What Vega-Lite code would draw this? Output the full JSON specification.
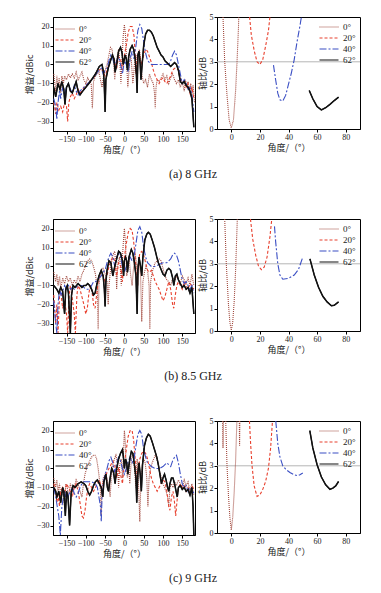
{
"$schema": "https://vega.github.io/schema/vega-lite/v6.json",
"padding": {"left": 24, "top": 12, "right": 4, "bottom": 4},
"background": "white",
"config": {
 "view": {"stroke": "#000", "strokeWidth": 1},
 "axis": {"labelFont": "Liberation Serif", "labelFontSize": 8, "labelColor": "#222", "labelOverlap": false, "labelSeparation": 0, "titleFont": "Noto Sans CJK SC", "titleFontSize": 9, "titleFontWeight": "normal", "titleColor": "#222", "tickSize": 3, "labelPadding": 1, "titlePadding": 2, "grid": false, "domainColor": "#000", "tickColor": "#000"},
 "legend": {"symbolType": "M-1.9,0H1.9", "symbolSize": 100, "symbolStrokeWidth": 1.2, "labelOffset": 8, "labelFont": "Liberation Serif", "labelFontSize": 9, "labelColor": "#222", "rowPadding": 0, "padding": 0, "title": null},
 "title": {"font": "Liberation Serif", "fontSize": 12, "fontWeight": "normal", "color": "#222"}
},
"datasets": {
 "ref": [{"y": 3}],
 "r": [
  {"f":"a","s":"0°","x":-5.8,"y":5},{"f":"a","s":"0°","x":-4.6,"y":3},{"f":"a","s":"0°","x":-3,"y":1.5},{"f":"a","s":"0°","x":-1.5,"y":0.4},{"f":"a","s":"0°","x":0,"y":0.05},{"f":"a","s":"0°","x":1.5,"y":0.4},{"f":"a","s":"0°","x":3,"y":1.7},{"f":"a","s":"0°","x":4,"y":3},{"f":"a","s":"0°","x":5,"y":4.5},{"f":"a","s":"0°","x":5.2,"y":5},
  {"f":"a","s":"20°","x":12.8,"y":5},{"f":"a","s":"20°","x":14,"y":4.2},{"f":"a","s":"20°","x":16,"y":3.5},{"f":"a","s":"20°","x":18,"y":3.0},{"f":"a","s":"20°","x":20,"y":2.88},{"f":"a","s":"20°","x":22,"y":3.1},{"f":"a","s":"20°","x":24,"y":3.7},{"f":"a","s":"20°","x":26,"y":4.4},{"f":"a","s":"20°","x":27,"y":5},
  {"f":"a","s":"40°","x":29.5,"y":2.85},{"f":"a","s":"40°","x":31,"y":2.2},{"f":"a","s":"40°","x":32.5,"y":1.6},{"f":"a","s":"40°","x":34,"y":1.3},{"f":"a","s":"40°","x":36,"y":1.25},{"f":"a","s":"40°","x":38,"y":1.5},{"f":"a","s":"40°","x":40,"y":2.0},{"f":"a","s":"40°","x":42,"y":2.5},{"f":"a","s":"40°","x":44,"y":3.1},{"f":"a","s":"40°","x":46,"y":3.9},{"f":"a","s":"40°","x":48,"y":4.6},{"f":"a","s":"40°","x":49,"y":5},
  {"f":"a","s":"62°","x":54.5,"y":1.72},{"f":"a","s":"62°","x":57,"y":1.35},{"f":"a","s":"62°","x":60,"y":1.0},{"f":"a","s":"62°","x":63,"y":0.85},{"f":"a","s":"62°","x":66,"y":0.95},{"f":"a","s":"62°","x":69,"y":1.1},{"f":"a","s":"62°","x":72,"y":1.27},{"f":"a","s":"62°","x":75,"y":1.42},
  {"f":"b","s":"0°","x":-4.6,"y":5},{"f":"b","s":"0°","x":-3.5,"y":3},{"f":"b","s":"0°","x":-2,"y":1.2},{"f":"b","s":"0°","x":-1,"y":0.4},{"f":"b","s":"0°","x":0,"y":0.03},{"f":"b","s":"0°","x":1,"y":0.4},{"f":"b","s":"0°","x":2,"y":1.3},{"f":"b","s":"0°","x":3,"y":2.7},{"f":"b","s":"0°","x":4.2,"y":5},
  {"f":"b","s":"20°","x":13.4,"y":5},{"f":"b","s":"20°","x":15,"y":4.1},{"f":"b","s":"20°","x":17,"y":3.4},{"f":"b","s":"20°","x":19,"y":2.9},{"f":"b","s":"20°","x":21,"y":2.74},{"f":"b","s":"20°","x":23,"y":2.85},{"f":"b","s":"20°","x":25,"y":3.3},{"f":"b","s":"20°","x":27,"y":4.2},{"f":"b","s":"20°","x":28.3,"y":5},
  {"f":"b","s":"40°","x":30.2,"y":4.67},{"f":"b","s":"40°","x":31,"y":4.0},{"f":"b","s":"40°","x":32.5,"y":3.0},{"f":"b","s":"40°","x":34,"y":2.5},{"f":"b","s":"40°","x":36,"y":2.31},{"f":"b","s":"40°","x":40,"y":2.35},{"f":"b","s":"40°","x":44,"y":2.5},{"f":"b","s":"40°","x":47,"y":2.75},{"f":"b","s":"40°","x":50,"y":3.3},
  {"f":"b","s":"62°","x":55,"y":3.22},{"f":"b","s":"62°","x":58,"y":2.5},{"f":"b","s":"62°","x":61,"y":1.95},{"f":"b","s":"62°","x":64,"y":1.55},{"f":"b","s":"62°","x":67,"y":1.3},{"f":"b","s":"62°","x":70,"y":1.13},{"f":"b","s":"62°","x":72,"y":1.15},{"f":"b","s":"62°","x":75,"y":1.3},
  {"f":"c","s":"0°","x":-3.9,"y":5},{"f":"c","s":"0°","x":-3,"y":3},{"f":"c","s":"0°","x":-2,"y":1.7},{"f":"c","s":"0°","x":-1,"y":0.7},{"f":"c","s":"0°","x":0,"y":0.13},{"f":"c","s":"0°","x":1,"y":0.7},{"f":"c","s":"0°","x":2,"y":1.8},{"f":"c","s":"0°","x":3,"y":3.2},{"f":"c","s":"0°","x":3.9,"y":5},
  {"f":"c","s":"0°","k":1,"x":-6,"y":5},{"f":"c","s":"0°","k":1,"x":-5.8,"y":3.8},{"f":"c","s":"0°","k":1,"x":-5.6,"y":5},
  {"f":"c","s":"0°","k":2,"x":5.6,"y":5},{"f":"c","s":"0°","k":2,"x":5.8,"y":3.9},{"f":"c","s":"0°","k":2,"x":6.0,"y":5},
  {"f":"c","s":"20°","x":12.7,"y":5},{"f":"c","s":"20°","x":13.5,"y":4},{"f":"c","s":"20°","x":14.5,"y":3},{"f":"c","s":"20°","x":16,"y":2.1},{"f":"c","s":"20°","x":18,"y":1.63},{"f":"c","s":"20°","x":20,"y":1.7},{"f":"c","s":"20°","x":22,"y":1.95},{"f":"c","s":"20°","x":24,"y":2.3},{"f":"c","s":"20°","x":26,"y":2.9},{"f":"c","s":"20°","x":27.5,"y":3.8},{"f":"c","s":"20°","x":28.8,"y":5},
  {"f":"c","s":"40°","x":31.1,"y":5},{"f":"c","s":"40°","x":32.5,"y":4.0},{"f":"c","s":"40°","x":34,"y":3.4},{"f":"c","s":"40°","x":36,"y":3.0},{"f":"c","s":"40°","x":38,"y":2.85},{"f":"c","s":"40°","x":41,"y":2.7},{"f":"c","s":"40°","x":44,"y":2.6},{"f":"c","s":"40°","x":46,"y":2.56},{"f":"c","s":"40°","x":48,"y":2.6},{"f":"c","s":"40°","x":50,"y":2.68},
  {"f":"c","s":"62°","x":54.9,"y":4.57},{"f":"c","s":"62°","x":57,"y":3.8},{"f":"c","s":"62°","x":60,"y":3.05},{"f":"c","s":"62°","x":63,"y":2.5},{"f":"c","s":"62°","x":66,"y":2.15},{"f":"c","s":"62°","x":69,"y":1.95},{"f":"c","s":"62°","x":71,"y":2.0},{"f":"c","s":"62°","x":73,"y":2.1},{"f":"c","s":"62°","x":75,"y":2.3}
 ],
 "g": [
  {"f":"a","s":"0°","x":-183,"y":-5},{"f":"a","s":"0°","x":-178,"y":-14},{"f":"a","s":"0°","x":-175,"y":-6},{"f":"a","s":"0°","x":-172,"y":-12},{"f":"a","s":"0°","x":-169,"y":-7},{"f":"a","s":"0°","x":-165,"y":-15},{"f":"a","s":"0°","x":-162,"y":-6},{"f":"a","s":"0°","x":-158,"y":-10},{"f":"a","s":"0°","x":-155,"y":-6},{"f":"a","s":"0°","x":-150,"y":-8},{"f":"a","s":"0°","x":-145,"y":-5},{"f":"a","s":"0°","x":-140,"y":-7},{"f":"a","s":"0°","x":-135,"y":-5},{"f":"a","s":"0°","x":-130,"y":-7},{"f":"a","s":"0°","x":-125,"y":-4},{"f":"a","s":"0°","x":-120,"y":-8},{"f":"a","s":"0°","x":-115,"y":-6},{"f":"a","s":"0°","x":-110,"y":-4},{"f":"a","s":"0°","x":-105,"y":-8},{"f":"a","s":"0°","x":-100,"y":-10},{"f":"a","s":"0°","x":-95,"y":-7},{"f":"a","s":"0°","x":-90,"y":-9},{"f":"a","s":"0°","x":-86,"y":-10},{"f":"a","s":"0°","x":-83,"y":-23},{"f":"a","s":"0°","x":-80,"y":-9},{"f":"a","s":"0°","x":-75,"y":-6},{"f":"a","s":"0°","x":-70,"y":-5},{"f":"a","s":"0°","x":-66,"y":-4},{"f":"a","s":"0°","x":-62,"y":-8},{"f":"a","s":"0°","x":-58,"y":-12},{"f":"a","s":"0°","x":-54,"y":-6},{"f":"a","s":"0°","x":-50,"y":-3},{"f":"a","s":"0°","x":-45,"y":0},{"f":"a","s":"0°","x":-40,"y":5},{"f":"a","s":"0°","x":-36,"y":9},{"f":"a","s":"0°","x":-32,"y":8},{"f":"a","s":"0°","x":-28,"y":2},{"f":"a","s":"0°","x":-25,"y":-8},{"f":"a","s":"0°","x":-22,"y":0},{"f":"a","s":"0°","x":-18,"y":5},{"f":"a","s":"0°","x":-15,"y":8},{"f":"a","s":"0°","x":-12,"y":2},{"f":"a","s":"0°","x":-9,"y":-10},{"f":"a","s":"0°","x":-6,"y":3},{"f":"a","s":"0°","x":-3,"y":15},{"f":"a","s":"0°","x":0,"y":21},{"f":"a","s":"0°","x":3,"y":15},{"f":"a","s":"0°","x":6,"y":0},{"f":"a","s":"0°","x":9,"y":-12},{"f":"a","s":"0°","x":12,"y":-3},{"f":"a","s":"0°","x":15,"y":5},{"f":"a","s":"0°","x":18,"y":2},{"f":"a","s":"0°","x":22,"y":-10},{"f":"a","s":"0°","x":26,"y":0},{"f":"a","s":"0°","x":30,"y":5},{"f":"a","s":"0°","x":33,"y":-8},{"f":"a","s":"0°","x":36,"y":5},{"f":"a","s":"0°","x":39,"y":8},{"f":"a","s":"0°","x":42,"y":3},{"f":"a","s":"0°","x":45,"y":-5},{"f":"a","s":"0°","x":50,"y":-10},{"f":"a","s":"0°","x":55,"y":-8},{"f":"a","s":"0°","x":60,"y":-12},{"f":"a","s":"0°","x":65,"y":-5},{"f":"a","s":"0°","x":70,"y":-8},{"f":"a","s":"0°","x":75,"y":-10},{"f":"a","s":"0°","x":78,"y":-15},{"f":"a","s":"0°","x":80,"y":-23},{"f":"a","s":"0°","x":82,"y":-12},{"f":"a","s":"0°","x":85,"y":-8},{"f":"a","s":"0°","x":90,"y":-9},{"f":"a","s":"0°","x":95,"y":-7},{"f":"a","s":"0°","x":100,"y":-5},{"f":"a","s":"0°","x":105,"y":-8},{"f":"a","s":"0°","x":110,"y":-6},{"f":"a","s":"0°","x":115,"y":-10},{"f":"a","s":"0°","x":120,"y":-7},{"f":"a","s":"0°","x":125,"y":-5},{"f":"a","s":"0°","x":130,"y":-8},{"f":"a","s":"0°","x":135,"y":-10},{"f":"a","s":"0°","x":140,"y":-8},{"f":"a","s":"0°","x":145,"y":-12},{"f":"a","s":"0°","x":150,"y":-9},{"f":"a","s":"0°","x":155,"y":-14},{"f":"a","s":"0°","x":158,"y":-8},{"f":"a","s":"0°","x":162,"y":-12},{"f":"a","s":"0°","x":165,"y":-9},{"f":"a","s":"0°","x":168,"y":-14},{"f":"a","s":"0°","x":172,"y":-10},{"f":"a","s":"0°","x":175,"y":-16},{"f":"a","s":"0°","x":178,"y":-11},{"f":"a","s":"0°","x":182,"y":-20},
  {"f":"a","s":"20°","x":-183,"y":-20},{"f":"a","s":"20°","x":-178,"y":-26},{"f":"a","s":"20°","x":-175,"y":-20},{"f":"a","s":"20°","x":-170,"y":-24},{"f":"a","s":"20°","x":-165,"y":-22},{"f":"a","s":"20°","x":-160,"y":-25},{"f":"a","s":"20°","x":-155,"y":-20},{"f":"a","s":"20°","x":-150,"y":-22},{"f":"a","s":"20°","x":-147,"y":-30},{"f":"a","s":"20°","x":-144,"y":-20},{"f":"a","s":"20°","x":-140,"y":-17},{"f":"a","s":"20°","x":-135,"y":-15},{"f":"a","s":"20°","x":-130,"y":-18},{"f":"a","s":"20°","x":-125,"y":-16},{"f":"a","s":"20°","x":-120,"y":-13},{"f":"a","s":"20°","x":-115,"y":-15},{"f":"a","s":"20°","x":-110,"y":-14},{"f":"a","s":"20°","x":-105,"y":-12},{"f":"a","s":"20°","x":-100,"y":-11},{"f":"a","s":"20°","x":-95,"y":-10},{"f":"a","s":"20°","x":-90,"y":-9},{"f":"a","s":"20°","x":-85,"y":-8},{"f":"a","s":"20°","x":-80,"y":-7},{"f":"a","s":"20°","x":-75,"y":-5},{"f":"a","s":"20°","x":-70,"y":-3},{"f":"a","s":"20°","x":-65,"y":-3},{"f":"a","s":"20°","x":-60,"y":-2},{"f":"a","s":"20°","x":-55,"y":-4},{"f":"a","s":"20°","x":-50,"y":-6},{"f":"a","s":"20°","x":-45,"y":-3},{"f":"a","s":"20°","x":-40,"y":0},{"f":"a","s":"20°","x":-35,"y":3},{"f":"a","s":"20°","x":-30,"y":4},{"f":"a","s":"20°","x":-25,"y":2},{"f":"a","s":"20°","x":-20,"y":-2},{"f":"a","s":"20°","x":-15,"y":4},{"f":"a","s":"20°","x":-10,"y":3},{"f":"a","s":"20°","x":-5,"y":-3},{"f":"a","s":"20°","x":0,"y":5},{"f":"a","s":"20°","x":5,"y":10},{"f":"a","s":"20°","x":10,"y":17},{"f":"a","s":"20°","x":15,"y":20},{"f":"a","s":"20°","x":20,"y":20},{"f":"a","s":"20°","x":25,"y":15},{"f":"a","s":"20°","x":28,"y":5},{"f":"a","s":"20°","x":30,"y":-5},{"f":"a","s":"20°","x":33,"y":3},{"f":"a","s":"20°","x":36,"y":6},{"f":"a","s":"20°","x":40,"y":4},{"f":"a","s":"20°","x":45,"y":0},{"f":"a","s":"20°","x":50,"y":5},{"f":"a","s":"20°","x":55,"y":8},{"f":"a","s":"20°","x":60,"y":7},{"f":"a","s":"20°","x":65,"y":4},{"f":"a","s":"20°","x":70,"y":1},{"f":"a","s":"20°","x":75,"y":-3},{"f":"a","s":"20°","x":80,"y":-6},{"f":"a","s":"20°","x":85,"y":-8},{"f":"a","s":"20°","x":90,"y":-10},{"f":"a","s":"20°","x":95,"y":-8},{"f":"a","s":"20°","x":100,"y":-7},{"f":"a","s":"20°","x":105,"y":-9},{"f":"a","s":"20°","x":110,"y":-10},{"f":"a","s":"20°","x":115,"y":-8},{"f":"a","s":"20°","x":120,"y":-6},{"f":"a","s":"20°","x":125,"y":-3},{"f":"a","s":"20°","x":130,"y":-2},{"f":"a","s":"20°","x":135,"y":-2},{"f":"a","s":"20°","x":140,"y":-3},{"f":"a","s":"20°","x":145,"y":-7},{"f":"a","s":"20°","x":150,"y":-10},{"f":"a","s":"20°","x":155,"y":-8},{"f":"a","s":"20°","x":160,"y":-12},{"f":"a","s":"20°","x":165,"y":-10},{"f":"a","s":"20°","x":170,"y":-15},{"f":"a","s":"20°","x":175,"y":-12},{"f":"a","s":"20°","x":180,"y":-18},
  {"f":"a","s":"40°","x":-183,"y":-18},{"f":"a","s":"40°","x":-178,"y":-22},{"f":"a","s":"40°","x":-175,"y":-29},{"f":"a","s":"40°","x":-172,"y":-20},{"f":"a","s":"40°","x":-168,"y":-14},{"f":"a","s":"40°","x":-165,"y":-18},{"f":"a","s":"40°","x":-160,"y":-12},{"f":"a","s":"40°","x":-155,"y":-16},{"f":"a","s":"40°","x":-150,"y":-12},{"f":"a","s":"40°","x":-145,"y":-10},{"f":"a","s":"40°","x":-140,"y":-13},{"f":"a","s":"40°","x":-135,"y":-15},{"f":"a","s":"40°","x":-130,"y":-11},{"f":"a","s":"40°","x":-125,"y":-14},{"f":"a","s":"40°","x":-120,"y":-16},{"f":"a","s":"40°","x":-115,"y":-14},{"f":"a","s":"40°","x":-110,"y":-13},{"f":"a","s":"40°","x":-100,"y":-11},{"f":"a","s":"40°","x":-90,"y":-9},{"f":"a","s":"40°","x":-80,"y":-7},{"f":"a","s":"40°","x":-70,"y":-4},{"f":"a","s":"40°","x":-60,"y":-2},{"f":"a","s":"40°","x":-55,"y":-5},{"f":"a","s":"40°","x":-50,"y":-3},{"f":"a","s":"40°","x":-45,"y":-2},{"f":"a","s":"40°","x":-40,"y":2},{"f":"a","s":"40°","x":-35,"y":5},{"f":"a","s":"40°","x":-30,"y":3},{"f":"a","s":"40°","x":-25,"y":-1},{"f":"a","s":"40°","x":-20,"y":2},{"f":"a","s":"40°","x":-15,"y":4},{"f":"a","s":"40°","x":-10,"y":0},{"f":"a","s":"40°","x":-5,"y":-5},{"f":"a","s":"40°","x":0,"y":2},{"f":"a","s":"40°","x":5,"y":0},{"f":"a","s":"40°","x":10,"y":-4},{"f":"a","s":"40°","x":15,"y":3},{"f":"a","s":"40°","x":20,"y":7},{"f":"a","s":"40°","x":25,"y":3},{"f":"a","s":"40°","x":30,"y":10},{"f":"a","s":"40°","x":35,"y":18},{"f":"a","s":"40°","x":40,"y":21},{"f":"a","s":"40°","x":45,"y":19},{"f":"a","s":"40°","x":50,"y":12},{"f":"a","s":"40°","x":55,"y":6},{"f":"a","s":"40°","x":60,"y":2},{"f":"a","s":"40°","x":65,"y":1},{"f":"a","s":"40°","x":70,"y":0},{"f":"a","s":"40°","x":80,"y":0},{"f":"a","s":"40°","x":90,"y":0},{"f":"a","s":"40°","x":100,"y":0},{"f":"a","s":"40°","x":110,"y":0},{"f":"a","s":"40°","x":115,"y":0},{"f":"a","s":"40°","x":120,"y":2},{"f":"a","s":"40°","x":125,"y":5},{"f":"a","s":"40°","x":130,"y":7},{"f":"a","s":"40°","x":135,"y":5},{"f":"a","s":"40°","x":140,"y":0},{"f":"a","s":"40°","x":145,"y":-5},{"f":"a","s":"40°","x":150,"y":-10},{"f":"a","s":"40°","x":155,"y":-8},{"f":"a","s":"40°","x":160,"y":-10},{"f":"a","s":"40°","x":165,"y":-13},{"f":"a","s":"40°","x":170,"y":-12},{"f":"a","s":"40°","x":175,"y":-16},{"f":"a","s":"40°","x":180,"y":-25},
  {"f":"a","s":"62°","x":-183,"y":-12},{"f":"a","s":"62°","x":-178,"y":-17},{"f":"a","s":"62°","x":-172,"y":-10},{"f":"a","s":"62°","x":-167,"y":-13},{"f":"a","s":"62°","x":-162,"y":-9},{"f":"a","s":"62°","x":-157,"y":-13},{"f":"a","s":"62°","x":-154,"y":-21},{"f":"a","s":"62°","x":-150,"y":-12},{"f":"a","s":"62°","x":-145,"y":-10},{"f":"a","s":"62°","x":-140,"y":-14},{"f":"a","s":"62°","x":-135,"y":-15},{"f":"a","s":"62°","x":-130,"y":-12},{"f":"a","s":"62°","x":-125,"y":-9},{"f":"a","s":"62°","x":-120,"y":-14},{"f":"a","s":"62°","x":-115,"y":-16},{"f":"a","s":"62°","x":-108,"y":-14},{"f":"a","s":"62°","x":-100,"y":-12},{"f":"a","s":"62°","x":-92,"y":-10},{"f":"a","s":"62°","x":-85,"y":-8},{"f":"a","s":"62°","x":-75,"y":-5},{"f":"a","s":"62°","x":-65,"y":-1},{"f":"a","s":"62°","x":-58,"y":0},{"f":"a","s":"62°","x":-54,"y":-4},{"f":"a","s":"62°","x":-52,"y":-12},{"f":"a","s":"62°","x":-50,"y":-25},{"f":"a","s":"62°","x":-48,"y":-8},{"f":"a","s":"62°","x":-42,"y":-2},{"f":"a","s":"62°","x":-36,"y":2},{"f":"a","s":"62°","x":-31,"y":5},{"f":"a","s":"62°","x":-27,"y":3},{"f":"a","s":"62°","x":-24,"y":-4},{"f":"a","s":"62°","x":-20,"y":0},{"f":"a","s":"62°","x":-15,"y":7},{"f":"a","s":"62°","x":-10,"y":9},{"f":"a","s":"62°","x":-6,"y":6},{"f":"a","s":"62°","x":-3,"y":0},{"f":"a","s":"62°","x":0,"y":3},{"f":"a","s":"62°","x":2,"y":5},{"f":"a","s":"62°","x":5,"y":3},{"f":"a","s":"62°","x":8,"y":-3},{"f":"a","s":"62°","x":11,"y":4},{"f":"a","s":"62°","x":15,"y":8},{"f":"a","s":"62°","x":20,"y":10},{"f":"a","s":"62°","x":24,"y":8},{"f":"a","s":"62°","x":28,"y":3},{"f":"a","s":"62°","x":31,"y":-5},{"f":"a","s":"62°","x":33,"y":-15},{"f":"a","s":"62°","x":35,"y":5},{"f":"a","s":"62°","x":38,"y":7},{"f":"a","s":"62°","x":41,"y":0},{"f":"a","s":"62°","x":43,"y":-8},{"f":"a","s":"62°","x":46,"y":0},{"f":"a","s":"62°","x":50,"y":10},{"f":"a","s":"62°","x":55,"y":16},{"f":"a","s":"62°","x":60,"y":18},{"f":"a","s":"62°","x":65,"y":18},{"f":"a","s":"62°","x":70,"y":17},{"f":"a","s":"62°","x":75,"y":15},{"f":"a","s":"62°","x":80,"y":12},{"f":"a","s":"62°","x":85,"y":9},{"f":"a","s":"62°","x":90,"y":7},{"f":"a","s":"62°","x":95,"y":5},{"f":"a","s":"62°","x":100,"y":4},{"f":"a","s":"62°","x":105,"y":2},{"f":"a","s":"62°","x":110,"y":1},{"f":"a","s":"62°","x":115,"y":0},{"f":"a","s":"62°","x":120,"y":-1},{"f":"a","s":"62°","x":125,"y":0},{"f":"a","s":"62°","x":130,"y":1},{"f":"a","s":"62°","x":135,"y":0},{"f":"a","s":"62°","x":140,"y":-3},{"f":"a","s":"62°","x":145,"y":-9},{"f":"a","s":"62°","x":150,"y":-10},{"f":"a","s":"62°","x":155,"y":-9},{"f":"a","s":"62°","x":160,"y":-11},{"f":"a","s":"62°","x":165,"y":-12},{"f":"a","s":"62°","x":170,"y":-14},{"f":"a","s":"62°","x":175,"y":-18},{"f":"a","s":"62°","x":180,"y":-33},
  {"f":"b","s":"0°","x":-183,"y":-3},{"f":"b","s":"0°","x":-178,"y":-8},{"f":"b","s":"0°","x":-175,"y":-4},{"f":"b","s":"0°","x":-172,"y":-10},{"f":"b","s":"0°","x":-168,"y":-5},{"f":"b","s":"0°","x":-165,"y":-12},{"f":"b","s":"0°","x":-160,"y":-6},{"f":"b","s":"0°","x":-155,"y":-9},{"f":"b","s":"0°","x":-150,"y":-5},{"f":"b","s":"0°","x":-145,"y":-8},{"f":"b","s":"0°","x":-140,"y":-6},{"f":"b","s":"0°","x":-135,"y":-10},{"f":"b","s":"0°","x":-130,"y":-7},{"f":"b","s":"0°","x":-125,"y":-9},{"f":"b","s":"0°","x":-120,"y":-5},{"f":"b","s":"0°","x":-115,"y":-8},{"f":"b","s":"0°","x":-110,"y":-4},{"f":"b","s":"0°","x":-105,"y":-2},{"f":"b","s":"0°","x":-100,"y":1},{"f":"b","s":"0°","x":-95,"y":3},{"f":"b","s":"0°","x":-90,"y":4},{"f":"b","s":"0°","x":-85,"y":3},{"f":"b","s":"0°","x":-80,"y":0},{"f":"b","s":"0°","x":-75,"y":-4},{"f":"b","s":"0°","x":-70,"y":-12},{"f":"b","s":"0°","x":-68,"y":-33},{"f":"b","s":"0°","x":-66,"y":-10},{"f":"b","s":"0°","x":-62,"y":-4},{"f":"b","s":"0°","x":-58,"y":-1},{"f":"b","s":"0°","x":-55,"y":-1},{"f":"b","s":"0°","x":-50,"y":-4},{"f":"b","s":"0°","x":-45,"y":-8},{"f":"b","s":"0°","x":-42,"y":-20},{"f":"b","s":"0°","x":-40,"y":-10},{"f":"b","s":"0°","x":-35,"y":0},{"f":"b","s":"0°","x":-30,"y":6},{"f":"b","s":"0°","x":-25,"y":8},{"f":"b","s":"0°","x":-22,"y":0},{"f":"b","s":"0°","x":-20,"y":-12},{"f":"b","s":"0°","x":-17,"y":2},{"f":"b","s":"0°","x":-12,"y":5},{"f":"b","s":"0°","x":-8,"y":-10},{"f":"b","s":"0°","x":-5,"y":5},{"f":"b","s":"0°","x":-2,"y":15},{"f":"b","s":"0°","x":0,"y":20},{"f":"b","s":"0°","x":3,"y":12},{"f":"b","s":"0°","x":6,"y":-5},{"f":"b","s":"0°","x":8,"y":-3},{"f":"b","s":"0°","x":12,"y":5},{"f":"b","s":"0°","x":16,"y":-4},{"f":"b","s":"0°","x":20,"y":-10},{"f":"b","s":"0°","x":24,"y":0},{"f":"b","s":"0°","x":28,"y":7},{"f":"b","s":"0°","x":32,"y":0},{"f":"b","s":"0°","x":35,"y":-10},{"f":"b","s":"0°","x":38,"y":5},{"f":"b","s":"0°","x":42,"y":-5},{"f":"b","s":"0°","x":45,"y":-29},{"f":"b","s":"0°","x":48,"y":-8},{"f":"b","s":"0°","x":52,"y":-3},{"f":"b","s":"0°","x":56,"y":0},{"f":"b","s":"0°","x":60,"y":-2},{"f":"b","s":"0°","x":64,"y":-10},{"f":"b","s":"0°","x":66,"y":-33},{"f":"b","s":"0°","x":68,"y":-8},{"f":"b","s":"0°","x":72,"y":-3},{"f":"b","s":"0°","x":76,"y":0},{"f":"b","s":"0°","x":80,"y":2},{"f":"b","s":"0°","x":85,"y":3},{"f":"b","s":"0°","x":90,"y":4},{"f":"b","s":"0°","x":95,"y":3},{"f":"b","s":"0°","x":100,"y":-1},{"f":"b","s":"0°","x":105,"y":-5},{"f":"b","s":"0°","x":110,"y":-7},{"f":"b","s":"0°","x":115,"y":-8},{"f":"b","s":"0°","x":120,"y":-10},{"f":"b","s":"0°","x":125,"y":-6},{"f":"b","s":"0°","x":130,"y":-8},{"f":"b","s":"0°","x":135,"y":-5},{"f":"b","s":"0°","x":140,"y":-7},{"f":"b","s":"0°","x":145,"y":-9},{"f":"b","s":"0°","x":150,"y":-5},{"f":"b","s":"0°","x":155,"y":-7},{"f":"b","s":"0°","x":160,"y":-9},{"f":"b","s":"0°","x":165,"y":-6},{"f":"b","s":"0°","x":170,"y":-10},{"f":"b","s":"0°","x":175,"y":-4},{"f":"b","s":"0°","x":180,"y":-10},
  {"f":"b","s":"20°","x":-183,"y":-15},{"f":"b","s":"20°","x":-178,"y":-30},{"f":"b","s":"20°","x":-175,"y":-20},{"f":"b","s":"20°","x":-172,"y":-35},{"f":"b","s":"20°","x":-168,"y":-15},{"f":"b","s":"20°","x":-165,"y":-13},{"f":"b","s":"20°","x":-160,"y":-22},{"f":"b","s":"20°","x":-155,"y":-18},{"f":"b","s":"20°","x":-150,"y":-25},{"f":"b","s":"20°","x":-147,"y":-35},{"f":"b","s":"20°","x":-143,"y":-15},{"f":"b","s":"20°","x":-140,"y":-10},{"f":"b","s":"20°","x":-135,"y":-17},{"f":"b","s":"20°","x":-130,"y":-25},{"f":"b","s":"20°","x":-127,"y":-35},{"f":"b","s":"20°","x":-123,"y":-15},{"f":"b","s":"20°","x":-120,"y":-10},{"f":"b","s":"20°","x":-115,"y":-12},{"f":"b","s":"20°","x":-110,"y":-16},{"f":"b","s":"20°","x":-105,"y":-20},{"f":"b","s":"20°","x":-100,"y":-25},{"f":"b","s":"20°","x":-96,"y":-22},{"f":"b","s":"20°","x":-92,"y":-14},{"f":"b","s":"20°","x":-88,"y":-10},{"f":"b","s":"20°","x":-84,"y":-13},{"f":"b","s":"20°","x":-80,"y":-20},{"f":"b","s":"20°","x":-76,"y":-22},{"f":"b","s":"20°","x":-72,"y":-15},{"f":"b","s":"20°","x":-68,"y":-8},{"f":"b","s":"20°","x":-64,"y":-4},{"f":"b","s":"20°","x":-60,"y":-3},{"f":"b","s":"20°","x":-55,"y":-5},{"f":"b","s":"20°","x":-50,"y":-8},{"f":"b","s":"20°","x":-45,"y":-5},{"f":"b","s":"20°","x":-40,"y":0},{"f":"b","s":"20°","x":-35,"y":3},{"f":"b","s":"20°","x":-30,"y":5},{"f":"b","s":"20°","x":-25,"y":3},{"f":"b","s":"20°","x":-20,"y":-5},{"f":"b","s":"20°","x":-15,"y":2},{"f":"b","s":"20°","x":-10,"y":1},{"f":"b","s":"20°","x":-5,"y":-8},{"f":"b","s":"20°","x":0,"y":5},{"f":"b","s":"20°","x":5,"y":12},{"f":"b","s":"20°","x":10,"y":18},{"f":"b","s":"20°","x":15,"y":20},{"f":"b","s":"20°","x":20,"y":19},{"f":"b","s":"20°","x":24,"y":13},{"f":"b","s":"20°","x":28,"y":5},{"f":"b","s":"20°","x":32,"y":-8},{"f":"b","s":"20°","x":36,"y":2},{"f":"b","s":"20°","x":40,"y":7},{"f":"b","s":"20°","x":45,"y":8},{"f":"b","s":"20°","x":50,"y":6},{"f":"b","s":"20°","x":55,"y":2},{"f":"b","s":"20°","x":60,"y":-2},{"f":"b","s":"20°","x":65,"y":-3},{"f":"b","s":"20°","x":70,"y":-2},{"f":"b","s":"20°","x":75,"y":-5},{"f":"b","s":"20°","x":80,"y":-8},{"f":"b","s":"20°","x":85,"y":-10},{"f":"b","s":"20°","x":90,"y":-12},{"f":"b","s":"20°","x":95,"y":-15},{"f":"b","s":"20°","x":100,"y":-18},{"f":"b","s":"20°","x":105,"y":-16},{"f":"b","s":"20°","x":110,"y":-12},{"f":"b","s":"20°","x":115,"y":-8},{"f":"b","s":"20°","x":120,"y":-12},{"f":"b","s":"20°","x":125,"y":-20},{"f":"b","s":"20°","x":128,"y":-22},{"f":"b","s":"20°","x":132,"y":-15},{"f":"b","s":"20°","x":136,"y":-10},{"f":"b","s":"20°","x":140,"y":-8},{"f":"b","s":"20°","x":145,"y":-10},{"f":"b","s":"20°","x":150,"y":-12},{"f":"b","s":"20°","x":155,"y":-8},{"f":"b","s":"20°","x":160,"y":-10},{"f":"b","s":"20°","x":165,"y":-12},{"f":"b","s":"20°","x":170,"y":-9},{"f":"b","s":"20°","x":175,"y":-10},{"f":"b","s":"20°","x":180,"y":-12},
  {"f":"b","s":"40°","x":-183,"y":-18},{"f":"b","s":"40°","x":-178,"y":-30},{"f":"b","s":"40°","x":-175,"y":-35},{"f":"b","s":"40°","x":-172,"y":-20},{"f":"b","s":"40°","x":-168,"y":-12},{"f":"b","s":"40°","x":-164,"y":-15},{"f":"b","s":"40°","x":-160,"y":-13},{"f":"b","s":"40°","x":-155,"y":-10},{"f":"b","s":"40°","x":-150,"y":-12},{"f":"b","s":"40°","x":-145,"y":-10},{"f":"b","s":"40°","x":-140,"y":-12},{"f":"b","s":"40°","x":-135,"y":-11},{"f":"b","s":"40°","x":-130,"y":-12},{"f":"b","s":"40°","x":-125,"y":-11},{"f":"b","s":"40°","x":-120,"y":-10},{"f":"b","s":"40°","x":-110,"y":-10},{"f":"b","s":"40°","x":-100,"y":-12},{"f":"b","s":"40°","x":-90,"y":-12},{"f":"b","s":"40°","x":-85,"y":-10},{"f":"b","s":"40°","x":-80,"y":-8},{"f":"b","s":"40°","x":-75,"y":-8},{"f":"b","s":"40°","x":-70,"y":-7},{"f":"b","s":"40°","x":-65,"y":-6},{"f":"b","s":"40°","x":-60,"y":-5},{"f":"b","s":"40°","x":-55,"y":-3},{"f":"b","s":"40°","x":-50,"y":-2},{"f":"b","s":"40°","x":-45,"y":2},{"f":"b","s":"40°","x":-40,"y":5},{"f":"b","s":"40°","x":-35,"y":7},{"f":"b","s":"40°","x":-30,"y":5},{"f":"b","s":"40°","x":-25,"y":0},{"f":"b","s":"40°","x":-20,"y":5},{"f":"b","s":"40°","x":-15,"y":7},{"f":"b","s":"40°","x":-10,"y":5},{"f":"b","s":"40°","x":-5,"y":0},{"f":"b","s":"40°","x":0,"y":-3},{"f":"b","s":"40°","x":5,"y":0},{"f":"b","s":"40°","x":10,"y":3},{"f":"b","s":"40°","x":15,"y":5},{"f":"b","s":"40°","x":20,"y":3},{"f":"b","s":"40°","x":25,"y":5},{"f":"b","s":"40°","x":30,"y":12},{"f":"b","s":"40°","x":35,"y":19},{"f":"b","s":"40°","x":40,"y":21},{"f":"b","s":"40°","x":45,"y":18},{"f":"b","s":"40°","x":50,"y":10},{"f":"b","s":"40°","x":55,"y":5},{"f":"b","s":"40°","x":60,"y":2},{"f":"b","s":"40°","x":65,"y":1},{"f":"b","s":"40°","x":70,"y":0},{"f":"b","s":"40°","x":75,"y":0},{"f":"b","s":"40°","x":80,"y":0},{"f":"b","s":"40°","x":90,"y":1},{"f":"b","s":"40°","x":100,"y":2},{"f":"b","s":"40°","x":110,"y":2},{"f":"b","s":"40°","x":115,"y":3},{"f":"b","s":"40°","x":120,"y":4},{"f":"b","s":"40°","x":125,"y":6},{"f":"b","s":"40°","x":130,"y":7},{"f":"b","s":"40°","x":135,"y":6},{"f":"b","s":"40°","x":140,"y":3},{"f":"b","s":"40°","x":145,"y":-2},{"f":"b","s":"40°","x":150,"y":-7},{"f":"b","s":"40°","x":155,"y":-9},{"f":"b","s":"40°","x":160,"y":-8},{"f":"b","s":"40°","x":165,"y":-10},{"f":"b","s":"40°","x":170,"y":-12},{"f":"b","s":"40°","x":175,"y":-10},{"f":"b","s":"40°","x":180,"y":-14},
  {"f":"b","s":"62°","x":-183,"y":-10},{"f":"b","s":"62°","x":-175,"y":-12},{"f":"b","s":"62°","x":-170,"y":-14},{"f":"b","s":"62°","x":-165,"y":-11},{"f":"b","s":"62°","x":-160,"y":-13},{"f":"b","s":"62°","x":-155,"y":-25},{"f":"b","s":"62°","x":-152,"y":-12},{"f":"b","s":"62°","x":-148,"y":-10},{"f":"b","s":"62°","x":-145,"y":-14},{"f":"b","s":"62°","x":-140,"y":-35},{"f":"b","s":"62°","x":-137,"y":-15},{"f":"b","s":"62°","x":-133,"y":-10},{"f":"b","s":"62°","x":-128,"y":-11},{"f":"b","s":"62°","x":-120,"y":-9},{"f":"b","s":"62°","x":-115,"y":-10},{"f":"b","s":"62°","x":-110,"y":-11},{"f":"b","s":"62°","x":-105,"y":-10},{"f":"b","s":"62°","x":-100,"y":-10},{"f":"b","s":"62°","x":-95,"y":-9},{"f":"b","s":"62°","x":-90,"y":-10},{"f":"b","s":"62°","x":-85,"y":-12},{"f":"b","s":"62°","x":-80,"y":-15},{"f":"b","s":"62°","x":-76,"y":-14},{"f":"b","s":"62°","x":-72,"y":-10},{"f":"b","s":"62°","x":-66,"y":-5},{"f":"b","s":"62°","x":-60,"y":-2},{"f":"b","s":"62°","x":-55,"y":-5},{"f":"b","s":"62°","x":-52,"y":-12},{"f":"b","s":"62°","x":-50,"y":-21},{"f":"b","s":"62°","x":-48,"y":-8},{"f":"b","s":"62°","x":-45,"y":-2},{"f":"b","s":"62°","x":-40,"y":3},{"f":"b","s":"62°","x":-35,"y":2},{"f":"b","s":"62°","x":-30,"y":-5},{"f":"b","s":"62°","x":-25,"y":0},{"f":"b","s":"62°","x":-20,"y":4},{"f":"b","s":"62°","x":-15,"y":8},{"f":"b","s":"62°","x":-10,"y":7},{"f":"b","s":"62°","x":-5,"y":3},{"f":"b","s":"62°","x":-2,"y":-5},{"f":"b","s":"62°","x":0,"y":3},{"f":"b","s":"62°","x":3,"y":5},{"f":"b","s":"62°","x":6,"y":3},{"f":"b","s":"62°","x":8,"y":-3},{"f":"b","s":"62°","x":12,"y":5},{"f":"b","s":"62°","x":18,"y":9},{"f":"b","s":"62°","x":22,"y":7},{"f":"b","s":"62°","x":26,"y":2},{"f":"b","s":"62°","x":30,"y":-5},{"f":"b","s":"62°","x":33,"y":-25},{"f":"b","s":"62°","x":35,"y":-2},{"f":"b","s":"62°","x":38,"y":5},{"f":"b","s":"62°","x":42,"y":0},{"f":"b","s":"62°","x":45,"y":-5},{"f":"b","s":"62°","x":48,"y":5},{"f":"b","s":"62°","x":53,"y":14},{"f":"b","s":"62°","x":58,"y":17},{"f":"b","s":"62°","x":62,"y":18},{"f":"b","s":"62°","x":67,"y":17},{"f":"b","s":"62°","x":72,"y":14},{"f":"b","s":"62°","x":78,"y":10},{"f":"b","s":"62°","x":84,"y":5},{"f":"b","s":"62°","x":88,"y":2},{"f":"b","s":"62°","x":92,"y":0},{"f":"b","s":"62°","x":96,"y":-2},{"f":"b","s":"62°","x":100,"y":-4},{"f":"b","s":"62°","x":105,"y":-5},{"f":"b","s":"62°","x":110,"y":-2},{"f":"b","s":"62°","x":115,"y":-1},{"f":"b","s":"62°","x":120,"y":-2},{"f":"b","s":"62°","x":125,"y":-6},{"f":"b","s":"62°","x":128,"y":-10},{"f":"b","s":"62°","x":132,"y":-5},{"f":"b","s":"62°","x":136,"y":-4},{"f":"b","s":"62°","x":140,"y":-7},{"f":"b","s":"62°","x":145,"y":-9},{"f":"b","s":"62°","x":150,"y":-11},{"f":"b","s":"62°","x":155,"y":-10},{"f":"b","s":"62°","x":160,"y":-12},{"f":"b","s":"62°","x":165,"y":-11},{"f":"b","s":"62°","x":170,"y":-14},{"f":"b","s":"62°","x":175,"y":-11},{"f":"b","s":"62°","x":180,"y":-25},
  {"f":"c","s":"0°","x":-183,"y":-5},{"f":"c","s":"0°","x":-178,"y":-10},{"f":"c","s":"0°","x":-175,"y":-6},{"f":"c","s":"0°","x":-172,"y":-12},{"f":"c","s":"0°","x":-168,"y":-8},{"f":"c","s":"0°","x":-165,"y":-15},{"f":"c","s":"0°","x":-160,"y":-10},{"f":"c","s":"0°","x":-155,"y":-20},{"f":"c","s":"0°","x":-152,"y":-8},{"f":"c","s":"0°","x":-148,"y":-10},{"f":"c","s":"0°","x":-145,"y":-15},{"f":"c","s":"0°","x":-140,"y":-8},{"f":"c","s":"0°","x":-135,"y":-12},{"f":"c","s":"0°","x":-130,"y":-10},{"f":"c","s":"0°","x":-125,"y":-6},{"f":"c","s":"0°","x":-120,"y":-8},{"f":"c","s":"0°","x":-115,"y":-12},{"f":"c","s":"0°","x":-110,"y":-15},{"f":"c","s":"0°","x":-106,"y":-8},{"f":"c","s":"0°","x":-102,"y":-3},{"f":"c","s":"0°","x":-98,"y":0},{"f":"c","s":"0°","x":-94,"y":2},{"f":"c","s":"0°","x":-90,"y":4},{"f":"c","s":"0°","x":-85,"y":6},{"f":"c","s":"0°","x":-80,"y":7},{"f":"c","s":"0°","x":-76,"y":7},{"f":"c","s":"0°","x":-72,"y":5},{"f":"c","s":"0°","x":-68,"y":0},{"f":"c","s":"0°","x":-65,"y":-5},{"f":"c","s":"0°","x":-62,"y":-12},{"f":"c","s":"0°","x":-60,"y":-25},{"f":"c","s":"0°","x":-58,"y":-10},{"f":"c","s":"0°","x":-55,"y":-5},{"f":"c","s":"0°","x":-50,"y":-3},{"f":"c","s":"0°","x":-45,"y":-5},{"f":"c","s":"0°","x":-40,"y":-10},{"f":"c","s":"0°","x":-37,"y":-15},{"f":"c","s":"0°","x":-34,"y":-5},{"f":"c","s":"0°","x":-30,"y":2},{"f":"c","s":"0°","x":-26,"y":5},{"f":"c","s":"0°","x":-22,"y":7},{"f":"c","s":"0°","x":-18,"y":3},{"f":"c","s":"0°","x":-15,"y":-10},{"f":"c","s":"0°","x":-12,"y":2},{"f":"c","s":"0°","x":-8,"y":5},{"f":"c","s":"0°","x":-5,"y":-5},{"f":"c","s":"0°","x":-2,"y":10},{"f":"c","s":"0°","x":0,"y":20},{"f":"c","s":"0°","x":2,"y":15},{"f":"c","s":"0°","x":5,"y":0},{"f":"c","s":"0°","x":8,"y":-5},{"f":"c","s":"0°","x":11,"y":3},{"f":"c","s":"0°","x":14,"y":-8},{"f":"c","s":"0°","x":18,"y":5},{"f":"c","s":"0°","x":22,"y":8},{"f":"c","s":"0°","x":26,"y":0},{"f":"c","s":"0°","x":30,"y":-10},{"f":"c","s":"0°","x":33,"y":5},{"f":"c","s":"0°","x":36,"y":-5},{"f":"c","s":"0°","x":40,"y":-28},{"f":"c","s":"0°","x":43,"y":-5},{"f":"c","s":"0°","x":46,"y":2},{"f":"c","s":"0°","x":50,"y":5},{"f":"c","s":"0°","x":54,"y":3},{"f":"c","s":"0°","x":58,"y":-5},{"f":"c","s":"0°","x":61,"y":-20},{"f":"c","s":"0°","x":64,"y":-5},{"f":"c","s":"0°","x":68,"y":0},{"f":"c","s":"0°","x":72,"y":3},{"f":"c","s":"0°","x":76,"y":5},{"f":"c","s":"0°","x":80,"y":7},{"f":"c","s":"0°","x":84,"y":5},{"f":"c","s":"0°","x":88,"y":2},{"f":"c","s":"0°","x":92,"y":-2},{"f":"c","s":"0°","x":96,"y":-5},{"f":"c","s":"0°","x":100,"y":-8},{"f":"c","s":"0°","x":104,"y":-10},{"f":"c","s":"0°","x":108,"y":-12},{"f":"c","s":"0°","x":112,"y":-15},{"f":"c","s":"0°","x":115,"y":-20},{"f":"c","s":"0°","x":118,"y":-10},{"f":"c","s":"0°","x":122,"y":-8},{"f":"c","s":"0°","x":126,"y":-10},{"f":"c","s":"0°","x":130,"y":-7},{"f":"c","s":"0°","x":135,"y":-9},{"f":"c","s":"0°","x":140,"y":-6},{"f":"c","s":"0°","x":145,"y":-8},{"f":"c","s":"0°","x":150,"y":-10},{"f":"c","s":"0°","x":155,"y":-6},{"f":"c","s":"0°","x":160,"y":-9},{"f":"c","s":"0°","x":165,"y":-7},{"f":"c","s":"0°","x":170,"y":-12},{"f":"c","s":"0°","x":175,"y":-8},{"f":"c","s":"0°","x":180,"y":-14},
  {"f":"c","s":"20°","x":-183,"y":-8},{"f":"c","s":"20°","x":-178,"y":-12},{"f":"c","s":"20°","x":-175,"y":-18},{"f":"c","s":"20°","x":-172,"y":-14},{"f":"c","s":"20°","x":-168,"y":-20},{"f":"c","s":"20°","x":-165,"y":-12},{"f":"c","s":"20°","x":-160,"y":-10},{"f":"c","s":"20°","x":-155,"y":-13},{"f":"c","s":"20°","x":-150,"y":-8},{"f":"c","s":"20°","x":-145,"y":-10},{"f":"c","s":"20°","x":-140,"y":-12},{"f":"c","s":"20°","x":-135,"y":-15},{"f":"c","s":"20°","x":-130,"y":-10},{"f":"c","s":"20°","x":-125,"y":-8},{"f":"c","s":"20°","x":-120,"y":-12},{"f":"c","s":"20°","x":-115,"y":-18},{"f":"c","s":"20°","x":-110,"y":-25},{"f":"c","s":"20°","x":-106,"y":-26},{"f":"c","s":"20°","x":-102,"y":-22},{"f":"c","s":"20°","x":-98,"y":-15},{"f":"c","s":"20°","x":-94,"y":-10},{"f":"c","s":"20°","x":-90,"y":-8},{"f":"c","s":"20°","x":-85,"y":-10},{"f":"c","s":"20°","x":-80,"y":-12},{"f":"c","s":"20°","x":-75,"y":-10},{"f":"c","s":"20°","x":-70,"y":-8},{"f":"c","s":"20°","x":-65,"y":-6},{"f":"c","s":"20°","x":-60,"y":-10},{"f":"c","s":"20°","x":-55,"y":-8},{"f":"c","s":"20°","x":-50,"y":-5},{"f":"c","s":"20°","x":-45,"y":-2},{"f":"c","s":"20°","x":-40,"y":0},{"f":"c","s":"20°","x":-35,"y":2},{"f":"c","s":"20°","x":-30,"y":4},{"f":"c","s":"20°","x":-25,"y":2},{"f":"c","s":"20°","x":-20,"y":-5},{"f":"c","s":"20°","x":-15,"y":0},{"f":"c","s":"20°","x":-10,"y":-3},{"f":"c","s":"20°","x":-5,"y":-8},{"f":"c","s":"20°","x":0,"y":3},{"f":"c","s":"20°","x":5,"y":10},{"f":"c","s":"20°","x":10,"y":17},{"f":"c","s":"20°","x":15,"y":20},{"f":"c","s":"20°","x":20,"y":20},{"f":"c","s":"20°","x":24,"y":15},{"f":"c","s":"20°","x":28,"y":5},{"f":"c","s":"20°","x":32,"y":-10},{"f":"c","s":"20°","x":36,"y":0},{"f":"c","s":"20°","x":40,"y":5},{"f":"c","s":"20°","x":45,"y":8},{"f":"c","s":"20°","x":50,"y":9},{"f":"c","s":"20°","x":55,"y":8},{"f":"c","s":"20°","x":60,"y":5},{"f":"c","s":"20°","x":65,"y":0},{"f":"c","s":"20°","x":70,"y":-5},{"f":"c","s":"20°","x":75,"y":-8},{"f":"c","s":"20°","x":80,"y":-10},{"f":"c","s":"20°","x":85,"y":-12},{"f":"c","s":"20°","x":90,"y":-10},{"f":"c","s":"20°","x":95,"y":-8},{"f":"c","s":"20°","x":100,"y":-6},{"f":"c","s":"20°","x":105,"y":-7},{"f":"c","s":"20°","x":110,"y":-12},{"f":"c","s":"20°","x":115,"y":-20},{"f":"c","s":"20°","x":118,"y":-22},{"f":"c","s":"20°","x":122,"y":-15},{"f":"c","s":"20°","x":126,"y":-12},{"f":"c","s":"20°","x":130,"y":-18},{"f":"c","s":"20°","x":133,"y":-25},{"f":"c","s":"20°","x":136,"y":-18},{"f":"c","s":"20°","x":140,"y":-10},{"f":"c","s":"20°","x":145,"y":-8},{"f":"c","s":"20°","x":150,"y":-10},{"f":"c","s":"20°","x":155,"y":-9},{"f":"c","s":"20°","x":160,"y":-12},{"f":"c","s":"20°","x":165,"y":-10},{"f":"c","s":"20°","x":170,"y":-13},{"f":"c","s":"20°","x":175,"y":-9},{"f":"c","s":"20°","x":180,"y":-11},
  {"f":"c","s":"40°","x":-183,"y":-10},{"f":"c","s":"40°","x":-178,"y":-15},{"f":"c","s":"40°","x":-174,"y":-20},{"f":"c","s":"40°","x":-170,"y":-25},{"f":"c","s":"40°","x":-166,"y":-35},{"f":"c","s":"40°","x":-162,"y":-20},{"f":"c","s":"40°","x":-158,"y":-15},{"f":"c","s":"40°","x":-155,"y":-12},{"f":"c","s":"40°","x":-150,"y":-17},{"f":"c","s":"40°","x":-145,"y":-14},{"f":"c","s":"40°","x":-140,"y":-12},{"f":"c","s":"40°","x":-135,"y":-10},{"f":"c","s":"40°","x":-130,"y":-13},{"f":"c","s":"40°","x":-125,"y":-15},{"f":"c","s":"40°","x":-120,"y":-13},{"f":"c","s":"40°","x":-115,"y":-10},{"f":"c","s":"40°","x":-110,"y":-8},{"f":"c","s":"40°","x":-105,"y":-7},{"f":"c","s":"40°","x":-95,"y":-7},{"f":"c","s":"40°","x":-85,"y":-7},{"f":"c","s":"40°","x":-75,"y":-8},{"f":"c","s":"40°","x":-70,"y":-10},{"f":"c","s":"40°","x":-66,"y":-15},{"f":"c","s":"40°","x":-62,"y":-20},{"f":"c","s":"40°","x":-60,"y":-28},{"f":"c","s":"40°","x":-58,"y":-15},{"f":"c","s":"40°","x":-55,"y":-8},{"f":"c","s":"40°","x":-50,"y":-3},{"f":"c","s":"40°","x":-45,"y":0},{"f":"c","s":"40°","x":-40,"y":4},{"f":"c","s":"40°","x":-35,"y":6},{"f":"c","s":"40°","x":-30,"y":3},{"f":"c","s":"40°","x":-25,"y":-2},{"f":"c","s":"40°","x":-20,"y":3},{"f":"c","s":"40°","x":-15,"y":6},{"f":"c","s":"40°","x":-10,"y":4},{"f":"c","s":"40°","x":-5,"y":0},{"f":"c","s":"40°","x":0,"y":-3},{"f":"c","s":"40°","x":5,"y":0},{"f":"c","s":"40°","x":10,"y":4},{"f":"c","s":"40°","x":15,"y":6},{"f":"c","s":"40°","x":20,"y":3},{"f":"c","s":"40°","x":25,"y":5},{"f":"c","s":"40°","x":30,"y":12},{"f":"c","s":"40°","x":35,"y":18},{"f":"c","s":"40°","x":40,"y":20},{"f":"c","s":"40°","x":45,"y":18},{"f":"c","s":"40°","x":50,"y":10},{"f":"c","s":"40°","x":55,"y":6},{"f":"c","s":"40°","x":60,"y":3},{"f":"c","s":"40°","x":65,"y":2},{"f":"c","s":"40°","x":70,"y":1},{"f":"c","s":"40°","x":80,"y":0},{"f":"c","s":"40°","x":90,"y":0},{"f":"c","s":"40°","x":100,"y":1},{"f":"c","s":"40°","x":110,"y":3},{"f":"c","s":"40°","x":115,"y":2},{"f":"c","s":"40°","x":120,"y":1},{"f":"c","s":"40°","x":125,"y":4},{"f":"c","s":"40°","x":130,"y":6},{"f":"c","s":"40°","x":135,"y":7},{"f":"c","s":"40°","x":140,"y":3},{"f":"c","s":"40°","x":145,"y":-3},{"f":"c","s":"40°","x":150,"y":-8},{"f":"c","s":"40°","x":155,"y":-10},{"f":"c","s":"40°","x":160,"y":-9},{"f":"c","s":"40°","x":165,"y":-12},{"f":"c","s":"40°","x":170,"y":-10},{"f":"c","s":"40°","x":175,"y":-11},{"f":"c","s":"40°","x":180,"y":-13},
  {"f":"c","s":"62°","x":-183,"y":-10},{"f":"c","s":"62°","x":-178,"y":-12},{"f":"c","s":"62°","x":-175,"y":-15},{"f":"c","s":"62°","x":-170,"y":-12},{"f":"c","s":"62°","x":-165,"y":-18},{"f":"c","s":"62°","x":-160,"y":-10},{"f":"c","s":"62°","x":-157,"y":-12},{"f":"c","s":"62°","x":-153,"y":-25},{"f":"c","s":"62°","x":-150,"y":-12},{"f":"c","s":"62°","x":-146,"y":-15},{"f":"c","s":"62°","x":-142,"y":-30},{"f":"c","s":"62°","x":-138,"y":-13},{"f":"c","s":"62°","x":-133,"y":-9},{"f":"c","s":"62°","x":-128,"y":-10},{"f":"c","s":"62°","x":-120,"y":-8},{"f":"c","s":"62°","x":-112,"y":-7},{"f":"c","s":"62°","x":-105,"y":-8},{"f":"c","s":"62°","x":-100,"y":-9},{"f":"c","s":"62°","x":-95,"y":-12},{"f":"c","s":"62°","x":-90,"y":-14},{"f":"c","s":"62°","x":-85,"y":-12},{"f":"c","s":"62°","x":-80,"y":-9},{"f":"c","s":"62°","x":-75,"y":-7},{"f":"c","s":"62°","x":-70,"y":-6},{"f":"c","s":"62°","x":-65,"y":-8},{"f":"c","s":"62°","x":-60,"y":-10},{"f":"c","s":"62°","x":-56,"y":-15},{"f":"c","s":"62°","x":-53,"y":-7},{"f":"c","s":"62°","x":-48,"y":-3},{"f":"c","s":"62°","x":-44,"y":-10},{"f":"c","s":"62°","x":-41,"y":-12},{"f":"c","s":"62°","x":-37,"y":-5},{"f":"c","s":"62°","x":-33,"y":0},{"f":"c","s":"62°","x":-28,"y":-2},{"f":"c","s":"62°","x":-24,"y":-8},{"f":"c","s":"62°","x":-20,"y":0},{"f":"c","s":"62°","x":-15,"y":5},{"f":"c","s":"62°","x":-10,"y":8},{"f":"c","s":"62°","x":-5,"y":10},{"f":"c","s":"62°","x":-2,"y":5},{"f":"c","s":"62°","x":0,"y":0},{"f":"c","s":"62°","x":3,"y":5},{"f":"c","s":"62°","x":6,"y":3},{"f":"c","s":"62°","x":9,"y":-3},{"f":"c","s":"62°","x":14,"y":5},{"f":"c","s":"62°","x":18,"y":9},{"f":"c","s":"62°","x":22,"y":8},{"f":"c","s":"62°","x":26,"y":2},{"f":"c","s":"62°","x":30,"y":-5},{"f":"c","s":"62°","x":32,"y":-18},{"f":"c","s":"62°","x":35,"y":-2},{"f":"c","s":"62°","x":38,"y":3},{"f":"c","s":"62°","x":41,"y":-3},{"f":"c","s":"62°","x":44,"y":-12},{"f":"c","s":"62°","x":47,"y":2},{"f":"c","s":"62°","x":52,"y":12},{"f":"c","s":"62°","x":57,"y":16},{"f":"c","s":"62°","x":62,"y":18},{"f":"c","s":"62°","x":67,"y":17},{"f":"c","s":"62°","x":72,"y":14},{"f":"c","s":"62°","x":78,"y":10},{"f":"c","s":"62°","x":84,"y":6},{"f":"c","s":"62°","x":88,"y":2},{"f":"c","s":"62°","x":92,"y":-3},{"f":"c","s":"62°","x":96,"y":-8},{"f":"c","s":"62°","x":100,"y":-5},{"f":"c","s":"62°","x":104,"y":-3},{"f":"c","s":"62°","x":108,"y":-6},{"f":"c","s":"62°","x":112,"y":-10},{"f":"c","s":"62°","x":115,"y":-12},{"f":"c","s":"62°","x":118,"y":-8},{"f":"c","s":"62°","x":122,"y":-5},{"f":"c","s":"62°","x":126,"y":-5},{"f":"c","s":"62°","x":130,"y":-8},{"f":"c","s":"62°","x":134,"y":-12},{"f":"c","s":"62°","x":137,"y":-15},{"f":"c","s":"62°","x":140,"y":-10},{"f":"c","s":"62°","x":145,"y":-9},{"f":"c","s":"62°","x":150,"y":-11},{"f":"c","s":"62°","x":155,"y":-10},{"f":"c","s":"62°","x":160,"y":-12},{"f":"c","s":"62°","x":165,"y":-11},{"f":"c","s":"62°","x":170,"y":-14},{"f":"c","s":"62°","x":175,"y":-10},{"f":"c","s":"62°","x":178,"y":-20},{"f":"c","s":"62°","x":180,"y":-35}
 ]
},
"spacing": 34,
"resolve": {"scale": {"color": "independent", "strokeDash": "independent", "x": "independent", "y": "independent"}, "legend": {"color": "independent", "strokeDash": "independent"}},
"vconcat": [
 {"title": {"text": "(a) 8 GHz", "orient": "bottom", "anchor": "middle", "offset": 14},
  "spacing": 1,
  "resolve": {"scale": {"color": "independent", "strokeDash": "independent"}, "legend": {"color": "independent", "strokeDash": "independent"}},
  "hconcat": [
   {"width": 142, "height": 114, "data": {"name": "g"}, "transform": [{"filter": "datum.f == 'a'"}],
    "encoding": {
     "x": {"field": "x", "type": "quantitative", "scale": {"domain": [-185, 183], "nice": false, "zero": false}, "axis": {"values": [-150, -100, -50, 0, 50, 100, 150], "title": "角度/（°）", "labelOverlap": false}},
     "y": {"field": "y", "type": "quantitative", "scale": {"domain": [-35, 25], "nice": false, "zero": false}, "axis": {"values": [-30, -20, -10, 0, 10, 20], "title": "增益/dBic", "labelOverlap": false}}
    },
    "layer": [
     {"mark": {"type": "line", "clip": true, "strokeWidth": 1.1},
      "encoding": {
       "color": {"field": "s", "type": "nominal", "scale": {"domain": ["0°", "20°", "40°", "62°"], "range": ["#a0473c", "#e8402e", "#3b4fc4", "#111111"]}, "legend": {"orient": "top-left", "offset": 6}},
       "strokeDash": {"field": "s", "type": "nominal", "scale": {"domain": ["0°", "20°", "40°", "62°"], "range": [[1, 1], [3, 2], [7, 2, 2, 2], [1, 0]]}, "legend": {"orient": "top-left", "offset": 6}}
      }},
     {"transform": [{"filter": "datum.s == '62°'"}], "mark": {"type": "line", "clip": true, "strokeWidth": 1.5, "color": "#111111"}, "encoding": {}}
    ]},
   {"width": 143, "height": 112, "data": {"name": "r"},
    "encoding": {
     "x": {"field": "x", "type": "quantitative", "scale": {"domain": [-10, 90], "nice": false, "zero": false}, "axis": {"values": [0, 20, 40, 60, 80], "title": "角度/（°）", "labelOverlap": false}},
     "y": {"field": "y", "type": "quantitative", "scale": {"domain": [0, 5], "nice": false, "zero": false}, "axis": {"values": [0, 1, 2, 3, 4, 5], "title": "轴比/dB", "labelOverlap": false}}
    },
    "layer": [
     {"data": {"name": "ref"}, "mark": {"type": "rule", "color": "#b5b5b5", "strokeWidth": 1}, "encoding": {"x": null}},
     {"transform": [{"filter": "datum.f == 'a'"}],
      "mark": {"type": "line", "clip": true, "strokeWidth": 1.1},
      "encoding": {
       "detail": {"field": "k", "type": "nominal"},
       "color": {"field": "s", "type": "nominal", "scale": {"domain": ["0°", "20°", "40°", "62°"], "range": ["#a0473c", "#e8402e", "#3b4fc4", "#111111"]}, "legend": {"orient": "top-right", "offset": 4}},
       "strokeDash": {"field": "s", "type": "nominal", "scale": {"domain": ["0°", "20°", "40°", "62°"], "range": [[1, 1], [3, 2], [7, 2, 2, 2], [1, 0]]}, "legend": {"orient": "top-right", "offset": 4}}
      }},
     {"transform": [{"filter": "datum.f == 'a' && datum.s == '62°'"}],
      "mark": {"type": "line", "clip": true, "strokeWidth": 1.5, "color": "#111111"}, "encoding": {}}
    ]}
  ]},
 {"title": {"text": "(b) 8.5 GHz", "orient": "bottom", "anchor": "middle", "offset": 14},
  "spacing": 1,
  "resolve": {"scale": {"color": "independent", "strokeDash": "independent"}, "legend": {"color": "independent", "strokeDash": "independent"}},
  "hconcat": [
   {"width": 142, "height": 114, "data": {"name": "g"}, "transform": [{"filter": "datum.f == 'b'"}],
    "encoding": {
     "x": {"field": "x", "type": "quantitative", "scale": {"domain": [-185, 183], "nice": false, "zero": false}, "axis": {"values": [-150, -100, -50, 0, 50, 100, 150], "title": "角度/（°）", "labelOverlap": false}},
     "y": {"field": "y", "type": "quantitative", "scale": {"domain": [-35, 25], "nice": false, "zero": false}, "axis": {"values": [-30, -20, -10, 0, 10, 20], "title": "增益/dBic", "labelOverlap": false}}
    },
    "layer": [
     {"mark": {"type": "line", "clip": true, "strokeWidth": 1.1},
      "encoding": {
       "color": {"field": "s", "type": "nominal", "scale": {"domain": ["0°", "20°", "40°", "62°"], "range": ["#a0473c", "#e8402e", "#3b4fc4", "#111111"]}, "legend": {"orient": "top-left", "offset": 6}},
       "strokeDash": {"field": "s", "type": "nominal", "scale": {"domain": ["0°", "20°", "40°", "62°"], "range": [[1, 1], [3, 2], [7, 2, 2, 2], [1, 0]]}, "legend": {"orient": "top-left", "offset": 6}}
      }},
     {"transform": [{"filter": "datum.s == '62°'"}], "mark": {"type": "line", "clip": true, "strokeWidth": 1.5, "color": "#111111"}, "encoding": {}}
    ]},
   {"width": 143, "height": 112, "data": {"name": "r"},
    "encoding": {
     "x": {"field": "x", "type": "quantitative", "scale": {"domain": [-10, 90], "nice": false, "zero": false}, "axis": {"values": [0, 20, 40, 60, 80], "title": "角度/（°）", "labelOverlap": false}},
     "y": {"field": "y", "type": "quantitative", "scale": {"domain": [0, 5], "nice": false, "zero": false}, "axis": {"values": [0, 1, 2, 3, 4, 5], "title": "轴比/dB", "labelOverlap": false}}
    },
    "layer": [
     {"data": {"name": "ref"}, "mark": {"type": "rule", "color": "#b5b5b5", "strokeWidth": 1}, "encoding": {"x": null}},
     {"transform": [{"filter": "datum.f == 'b'"}],
      "mark": {"type": "line", "clip": true, "strokeWidth": 1.1},
      "encoding": {
       "detail": {"field": "k", "type": "nominal"},
       "color": {"field": "s", "type": "nominal", "scale": {"domain": ["0°", "20°", "40°", "62°"], "range": ["#a0473c", "#e8402e", "#3b4fc4", "#111111"]}, "legend": {"orient": "top-right", "offset": 4}},
       "strokeDash": {"field": "s", "type": "nominal", "scale": {"domain": ["0°", "20°", "40°", "62°"], "range": [[1, 1], [3, 2], [7, 2, 2, 2], [1, 0]]}, "legend": {"orient": "top-right", "offset": 4}}
      }},
     {"transform": [{"filter": "datum.f == 'b' && datum.s == '62°'"}],
      "mark": {"type": "line", "clip": true, "strokeWidth": 1.5, "color": "#111111"}, "encoding": {}}
    ]}
  ]},
 {"title": {"text": "(c) 9 GHz", "orient": "bottom", "anchor": "middle", "offset": 14},
  "spacing": 1,
  "resolve": {"scale": {"color": "independent", "strokeDash": "independent"}, "legend": {"color": "independent", "strokeDash": "independent"}},
  "hconcat": [
   {"width": 142, "height": 114, "data": {"name": "g"}, "transform": [{"filter": "datum.f == 'c'"}],
    "encoding": {
     "x": {"field": "x", "type": "quantitative", "scale": {"domain": [-185, 183], "nice": false, "zero": false}, "axis": {"values": [-150, -100, -50, 0, 50, 100, 150], "title": "角度/（°）", "labelOverlap": false}},
     "y": {"field": "y", "type": "quantitative", "scale": {"domain": [-35, 25], "nice": false, "zero": false}, "axis": {"values": [-30, -20, -10, 0, 10, 20], "title": "增益/dBic", "labelOverlap": false}}
    },
    "layer": [
     {"mark": {"type": "line", "clip": true, "strokeWidth": 1.1},
      "encoding": {
       "color": {"field": "s", "type": "nominal", "scale": {"domain": ["0°", "20°", "40°", "62°"], "range": ["#a0473c", "#e8402e", "#3b4fc4", "#111111"]}, "legend": {"orient": "top-left", "offset": 6}},
       "strokeDash": {"field": "s", "type": "nominal", "scale": {"domain": ["0°", "20°", "40°", "62°"], "range": [[1, 1], [3, 2], [7, 2, 2, 2], [1, 0]]}, "legend": {"orient": "top-left", "offset": 6}}
      }},
     {"transform": [{"filter": "datum.s == '62°'"}], "mark": {"type": "line", "clip": true, "strokeWidth": 1.5, "color": "#111111"}, "encoding": {}}
    ]},
   {"width": 143, "height": 112, "data": {"name": "r"},
    "encoding": {
     "x": {"field": "x", "type": "quantitative", "scale": {"domain": [-10, 90], "nice": false, "zero": false}, "axis": {"values": [0, 20, 40, 60, 80], "title": "角度/（°）", "labelOverlap": false}},
     "y": {"field": "y", "type": "quantitative", "scale": {"domain": [0, 5], "nice": false, "zero": false}, "axis": {"values": [0, 1, 2, 3, 4, 5], "title": "轴比/dB", "labelOverlap": false}}
    },
    "layer": [
     {"data": {"name": "ref"}, "mark": {"type": "rule", "color": "#b5b5b5", "strokeWidth": 1}, "encoding": {"x": null}},
     {"transform": [{"filter": "datum.f == 'c'"}],
      "mark": {"type": "line", "clip": true, "strokeWidth": 1.1},
      "encoding": {
       "detail": {"field": "k", "type": "nominal"},
       "color": {"field": "s", "type": "nominal", "scale": {"domain": ["0°", "20°", "40°", "62°"], "range": ["#a0473c", "#e8402e", "#3b4fc4", "#111111"]}, "legend": {"orient": "top-right", "offset": 4}},
       "strokeDash": {"field": "s", "type": "nominal", "scale": {"domain": ["0°", "20°", "40°", "62°"], "range": [[1, 1], [3, 2], [7, 2, 2, 2], [1, 0]]}, "legend": {"orient": "top-right", "offset": 4}}
      }},
     {"transform": [{"filter": "datum.f == 'c' && datum.s == '62°'"}],
      "mark": {"type": "line", "clip": true, "strokeWidth": 1.5, "color": "#111111"}, "encoding": {}}
    ]}
  ]}
]
}
